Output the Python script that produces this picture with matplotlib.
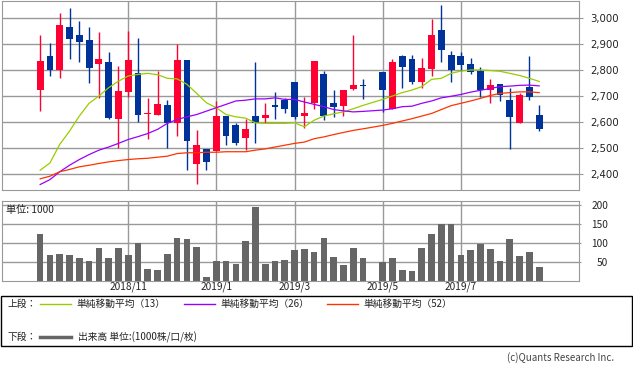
import numpy as np
import matplotlib
matplotlib.use('Agg')
import matplotlib.pyplot as plt
from matplotlib.patches import Rectangle
from matplotlib.lines import Line2D

plt.rcParams['font.family'] = ['Noto Sans CJK JP', 'DejaVu Sans']

nan = np.nan

# weekly prices, week 34 is the golden week holiday (no trading)
opens = [2722, 2851, 2799, 2963, 2932, 2913, 2822, 2828, 2610, 2714,
         2786, 2630, 2628, 2663, 2594, 2836, 2437, 2497, 2486, 2621,
         2586, 2536, 2624, 2613, 2663, 2682, 2751, 2621, 2674, 2782,
         2671, 2659, 2727, 2739, nan, 2790, 2651, 2851, 2840, 2751,
         2801, 2951, 2855, 2851, 2821, 2797, 2721, 2744, 2682, 2597,
         2732, 2628]
highs = [2932, 2901, 3019, 3036, 2986, 2963, 2944, 2867, 2813, 2947,
         2920, 2690, 2794, 2682, 2897, 2836, 2567, 2497, 2678, 2621,
         2594, 2609, 2828, 2671, 2713, 2690, 2751, 2697, 2832, 2797,
         2721, 2724, 2932, 2763, nan, 2790, 2840, 2855, 2855, 2844,
         2994, 3047, 2871, 2867, 2844, 2809, 2763, 2747, 2728, 2709,
         2851, 2663]
lows = [2641, 2776, 2768, 2841, 2829, 2749, 2692, 2609, 2499, 2695,
        2600, 2532, 2628, 2499, 2547, 2413, 2360, 2413, 2486, 2509,
        2509, 2490, 2517, 2597, 2609, 2632, 2609, 2578, 2651, 2605,
        2617, 2624, 2722, 2687, nan, 2636, 2651, 2728, 2747, 2728,
        2774, 2828, 2751, 2795, 2783, 2697, 2671, 2678, 2497, 2594,
        2682, 2563]
closes = [2832, 2799, 2970, 2918, 2906, 2805, 2840, 2613, 2717, 2836,
          2628, 2632, 2667, 2597, 2836, 2528, 2509, 2447, 2621, 2547,
          2517, 2571, 2597, 2628, 2655, 2651, 2617, 2632, 2832, 2621,
          2655, 2724, 2740, 2736, nan, 2724, 2828, 2809, 2751, 2805,
          2932, 2874, 2799, 2818, 2791, 2724, 2740, 2701, 2617, 2701,
          2697, 2574]
volumes = [125, 69, 72, 69, 61, 54, 88, 61, 88, 69,
           100, 33, 30, 72, 114, 111, 90, 11, 54, 54,
           46, 106, 196, 46, 54, 56, 83, 85, 77, 114,
           64, 43, 88, 61, 0, 51, 61, 30, 27, 88,
           125, 150, 149, 69, 83, 98, 85, 54, 111, 67,
           77, 38]
ma13 = [2414, 2442, 2513, 2564, 2622, 2671, 2699, 2731, 2756, 2776,
        2782, 2786, 2781, 2767, 2765, 2744, 2709, 2673, 2654, 2628,
        2619, 2614, 2596, 2594, 2594, 2594, 2596, 2581, 2606, 2622,
        2631, 2638, 2650, 2663, nan, 2686, 2699, 2712, 2722, 2735,
        2763, 2767, 2786, 2795, 2799, 2799, 2797, 2794, 2786, 2778,
        2767, 2755]
ma26 = [2359, 2378, 2408, 2433, 2455, 2474, 2491, 2503, 2517, 2532,
        2543, 2555, 2571, 2594, 2609, 2619, 2628, 2641, 2654, 2667,
        2680, 2683, 2688, 2688, 2692, 2686, 2686, 2676, 2667, 2658,
        2647, 2642, 2638, 2640, nan, 2645, 2650, 2658, 2660, 2671,
        2680, 2692, 2698, 2705, 2714, 2721, 2728, 2735, 2737, 2740,
        2741, 2738]
ma52 = [2381, 2391, 2408, 2417, 2427, 2433, 2440, 2446, 2451, 2455,
        2458, 2460, 2464, 2468, 2478, 2481, 2481, 2483, 2483, 2485,
        2485, 2485, 2491, 2496, 2503, 2510, 2517, 2522, 2535, 2542,
        2551, 2559, 2567, 2573, nan, 2586, 2594, 2603, 2612, 2622,
        2632, 2647, 2662, 2671, 2680, 2690, 2701, 2709, 2712, 2715,
        2715, 2712]
month_pos = [9, 18, 26, 35, 43]
month_labels = ['2018/11', '2019/1', '2019/3', '2019/5', '2019/7']
price_ticks = [2400, 2500, 2600, 2700, 2800, 2900, 3000]
volume_ticks = [50, 100, 150, 200]

W, H = 633, 372
grid_color = '#999999'
fig = plt.figure(figsize=(W / 100, H / 100), dpi=100)


def px_axes(left, top, right, bottom):
    return fig.add_axes([left / W, 1 - bottom / H, (right - left) / W, (bottom - top) / H])


def style_axes(ax):
    for s in ax.spines.values():
        s.set_color(grid_color)
    ax.grid(color=grid_color, lw=1)
    ax.set_axisbelow(True)
    ax.set_xticks(month_pos)
    ax.set_xlim(-3.9, 55.07)
    ax.yaxis.tick_right()


x = np.arange(len(closes))
o = np.array(opens)
h = np.array(highs)
l = np.array(lows)
c = np.array(closes)
ok = ~np.isnan(c)

# price panel
ax = px_axes(2, 1, 579, 190)
style_axes(ax)
for m, col in ((ok & (c >= o), '#ff0033'), (ok & (c < o), '#003399')):
    ax.vlines(x[m], l[m], h[m], color=col, lw=1, zorder=3)
    ax.bar(x[m], np.maximum(np.abs(c[m] - o[m]), 4), bottom=np.minimum(o[m], c[m]),
           width=0.7, color=col, lw=0, zorder=3)
for ma, col in ((ma13, '#99cc00'), (ma26, '#9900ff'), (ma52, '#ff3300')):
    ma = np.array(ma)
    ax.plot(x[ok], ma[ok], color=col, lw=0.9, zorder=4)
ax.set_ylim(2338, 3064)
ax.set_yticks(price_ticks)
ax.set_yticklabels([f'{t:,}' for t in price_ticks], family='DejaVu Sans')
ax.tick_params(axis='y', length=3, color=grid_color, labelsize=7.3, pad=5, labelcolor='#222222')
ax.tick_params(axis='x', length=0, labelbottom=False)

# volume panel
ax2 = px_axes(2, 201, 579, 280.5)
style_axes(ax2)
ax2.bar(x, volumes, width=0.68, color='#666666', lw=0, zorder=3)
ax2.set_ylim(2, 210.5)
ax2.set_yticks(volume_ticks)
ax2.set_yticklabels([str(t) for t in volume_ticks], ha='right')
ax2.tick_params(axis='y', length=1.5, color=grid_color, labelsize=7.3, pad=19.5, labelcolor='#222222')
ax2.set_xticklabels(month_labels)
ax2.tick_params(axis='x', length=0, labelsize=7.3, pad=1, labelcolor='#222222')
fig.text(6 / W, 1 - 209.5 / H, '単位: 1000', va='center', fontsize=7.3, color='#222222')

# legend box
fig.patches.append(Rectangle((0.5 / W, 1 - 346 / H), 631.5 / W, 50.5 / H, transform=fig.transFigure,
                             fill=False, ec='black', lw=1))
ty1 = 1 - 304 / H
ty2 = 1 - 337 / H
fig.text(8 / W, ty1, '上段：', va='center', fontsize=7, color='#222222')
fig.text(8 / W, ty2, '下段：', va='center', fontsize=7, color='#222222')
for x0, col, lab in ((40, '#99cc00', '単純移動平均（13）'),
                     (184, '#9900ff', '単純移動平均（26）'),
                     (327, '#ff3300', '単純移動平均（52）')):
    fig.add_artist(Line2D([x0 / W, (x0 + 31) / W], [ty1, ty1], color=col, lw=1,
                          transform=fig.transFigure))
    fig.text((x0 + 36) / W, ty1, lab, va='center', fontsize=7, color='#222222')
fig.add_artist(Line2D([40 / W, 71 / W], [ty2, ty2], color='#666666', lw=2.5,
                      transform=fig.transFigure))
fig.text(78 / W, ty2, '出来高 単位:(1000株/口/枚)', va='center', fontsize=7, color='#222222')

fig.text(614 / W, 1 - 357.5 / H, '(c)Quants Research Inc.', ha='right', va='center',
         fontsize=7, color='#444444')

fig.savefig('out.png', dpi=100)
